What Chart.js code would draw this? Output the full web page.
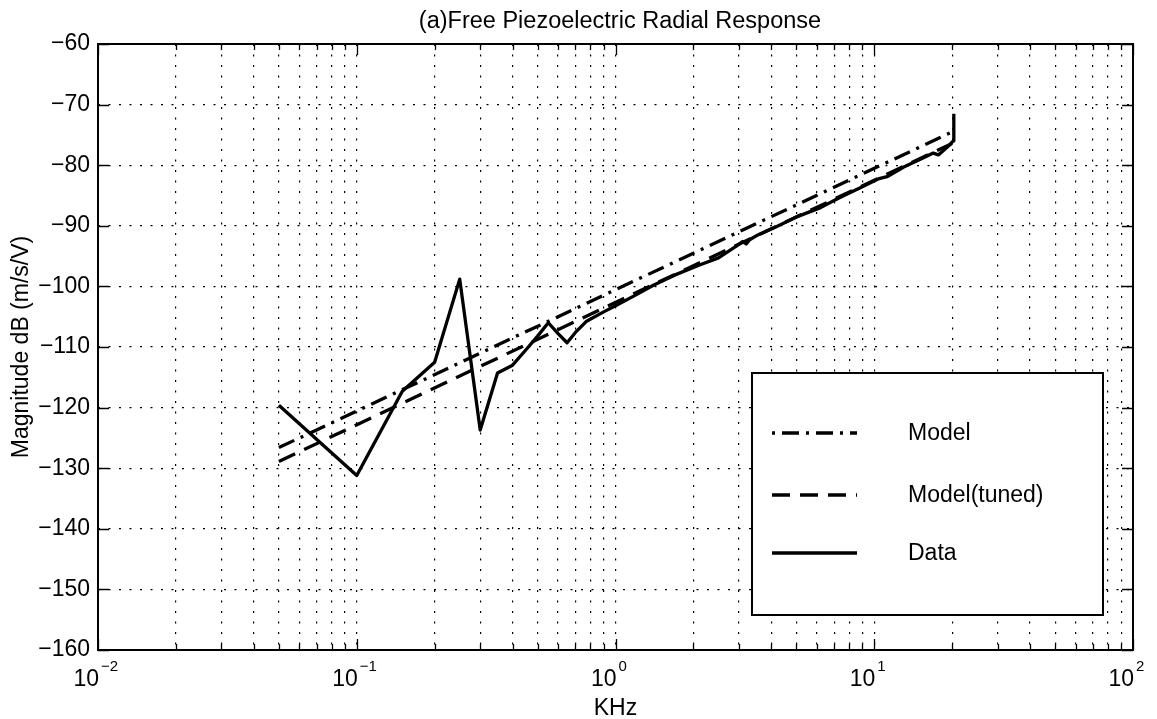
<!DOCTYPE html>
<html>
<head>
<meta charset="utf-8">
<script src="https://cdn.jsdelivr.net/npm/chart.js@4/dist/chart.umd.min.js"></script>
<style>
  html, body { margin: 0; padding: 0; background: #fff; }
  #wrap { width: 1157px; height: 719px; position: relative; }
</style>
</head>
<body>
<div id="wrap"><canvas id="respChart"></canvas></div>
<script>
// measured response (frequency in kHz, magnitude in dB)
const dataFreq = [0.05, 0.1, 0.15, 0.2, 0.25, 0.3, 0.35, 0.4, 0.45, 0.5, 0.55, 0.6, 0.65, 0.7, 0.77, 0.9,
                  1.0, 1.2, 1.4, 1.7, 2.1, 2.5, 2.92, 3.1, 3.2, 3.3, 3.55, 4.2, 5.1, 6.2, 7.3, 8.75,
                  10.45, 11.2, 13.0, 15.8, 16.9, 17.7, 19.5, 20.2, 20.3];
const dataDb   = [-119.6, -131.2, -117.3, -112.5, -98.8, -123.7, -114.3, -113.0, -110.5, -108.2, -106.0, -107.8, -109.3, -107.6, -105.8, -104.2,
                  -103.2, -101.4, -99.8, -98.1, -96.5, -95.3, -93.4, -92.6, -93.0, -92.3, -91.5, -90.1, -88.4, -87.0, -85.4, -83.8,
                  -82.2, -81.9, -80.3, -78.6, -78.0, -78.3, -76.7, -76.0, -71.5];
// model curves
const modelFreq = [0.05, 20];
const modelDb   = [-126.6, -74.5];
const tunedFreq = [0.05, 20];
const tunedDb   = [-128.9, -76.4];

// axes
const xMin = 0.01, xMax = 100;
const xDecades = [-2, -1, 0, 1, 2];
const yMin = -160, yMax = -60, yStep = 10;

const seriesNames = ['Model', 'Model(tuned)', 'Data'];
const FONT = '"Liberation Sans", Arial, Helvetica, sans-serif';

const toPts = (xs, ys) => xs.map((x, i) => ({ x: x, y: ys[i] }));

// log grid positions 1..9 x 10^n
const xGridVals = [];
xDecades.forEach(e => {
    for (let m = 1; m <= 9; m++) {
        const v = m * Math.pow(10, e);
        if (v >= xMin && v <= xMax) xGridVals.push(+v.toPrecision(6));
    }
});

const matlabDecor = {
    id: 'matlabDecor',
    afterDraw(chart) {
        const ctx = chart.ctx;
        const area = chart.chartArea;
        const xs = chart.scales.x, ys = chart.scales.y;
        ctx.save();
        ctx.strokeStyle = '#000';
        ctx.fillStyle = '#000';
        ctx.setLineDash([]);

        // inward tick marks
        ctx.lineWidth = 1.3;
        ctx.beginPath();
        xGridVals.forEach(v => {
            const px = Math.round(xs.getPixelForValue(v)) + 0.5;
            const isMajor = Math.abs(Math.log10(v) - Math.round(Math.log10(v))) < 1e-6;
            const len = isMajor ? 11 : 6;
            ctx.moveTo(px, area.bottom); ctx.lineTo(px, area.bottom - len);
            ctx.moveTo(px, area.top);    ctx.lineTo(px, area.top + len);
        });
        for (let v = yMin; v <= yMax; v += yStep) {
            const py = Math.round(ys.getPixelForValue(v)) + 0.5;
            ctx.moveTo(area.left, py);  ctx.lineTo(area.left + 11, py);
            ctx.moveTo(area.right, py); ctx.lineTo(area.right - 11, py);
        }
        ctx.stroke();

        // frame
        ctx.lineWidth = 2;
        ctx.strokeRect(area.left, area.top, area.right - area.left, area.bottom - area.top);

        // x tick labels 10^n
        xDecades.forEach(e => {
            const px = xs.getPixelForValue(Math.pow(10, e));
            ctx.font = '23px ' + FONT;
            ctx.textAlign = 'right';
            ctx.textBaseline = 'alphabetic';
            ctx.fillText('10', px + 1, 686);
            ctx.font = '15px ' + FONT;
            ctx.textAlign = 'left';
            ctx.fillText(e < 0 ? '\u2212' + Math.abs(e) : String(e), px + 3, 671);
        });

        // titles
        ctx.font = '23.5px ' + FONT;
        ctx.textAlign = 'center';
        ctx.textBaseline = 'alphabetic';
        ctx.fillText('(a)Free Piezoelectric Radial Response', 620, 28);
        ctx.font = '23px ' + FONT;
        ctx.fillText('KHz', (area.left + area.right) / 2, 715);
        ctx.save();
        ctx.translate(28, (area.top + area.bottom) / 2);
        ctx.rotate(-Math.PI / 2);
        ctx.fillText('Magnitude dB (m/s/V)', 0, 0);
        ctx.restore();

        // legend box
        const lb = { x: 752, y: 373, w: 351, h: 242 };
        ctx.fillStyle = '#fff';
        ctx.fillRect(lb.x, lb.y, lb.w, lb.h);
        ctx.lineWidth = 2;
        ctx.strokeRect(lb.x, lb.y, lb.w, lb.h);
        const rows = [433, 495, 553];
        const offsets = [24, 0, 0];
        chart.data.datasets.forEach((ds, i) => {
            ctx.beginPath();
            ctx.lineWidth = ds.borderWidth;
            ctx.setLineDash(ds.borderDash || []);
            ctx.lineDashOffset = offsets[i];
            ctx.moveTo(772, rows[i]); ctx.lineTo(857, rows[i]);
            ctx.stroke();
            ctx.setLineDash([]);
            ctx.lineDashOffset = 0;
            ctx.fillStyle = '#000';
            ctx.font = '23px ' + FONT;
            ctx.textAlign = 'left';
            ctx.textBaseline = 'middle';
            ctx.fillText(ds.label, 908, rows[i] + 1);
        });
        ctx.restore();
    }
};

new Chart(document.getElementById('respChart'), {
    type: 'scatter',
    data: {
        datasets: [
            {
                label: seriesNames[0],
                data: toPts(modelFreq, modelDb),
                showLine: true, borderColor: '#000', borderWidth: 3.3,
                borderDash: [17, 7, 3, 7], pointRadius: 0, tension: 0
            },
            {
                label: seriesNames[1],
                data: toPts(tunedFreq, tunedDb),
                showLine: true, borderColor: '#000', borderWidth: 3.3,
                borderDash: [18, 10], pointRadius: 0, tension: 0
            },
            {
                label: seriesNames[2],
                data: toPts(dataFreq, dataDb),
                showLine: true, borderColor: '#000', borderWidth: 3.3,
                borderJoinStyle: 'round', pointRadius: 0, tension: 0
            }
        ]
    },
    options: {
        responsive: true,
        maintainAspectRatio: false,
        animation: false,
        layout: { padding: { top: 44, right: 24, left: 0, bottom: 0 } },
        plugins: { legend: { display: false }, tooltip: { enabled: false }, title: { display: false } },
        scales: {
            x: {
                type: 'logarithmic',
                min: xMin, max: xMax,
                afterBuildTicks: s => { s.ticks = xGridVals.map(v => ({ value: v })); },
                afterFit: s => { s.height = 69; },
                ticks: { display: false },
                grid: { color: '#000', lineWidth: 1.2, drawTicks: false },
                border: { display: false, dash: [2, 8.5] }
            },
            y: {
                min: yMin, max: yMax,
                afterFit: s => { s.width = 98; },
                ticks: {
                    stepSize: yStep,
                    padding: 8,
                    color: '#000',
                    font: { family: FONT, size: 23 },
                    callback: v => (v < 0 ? '\u2212' : '') + Math.abs(v)
                },
                grid: { color: '#000', lineWidth: 1.2, drawTicks: false },
                border: { display: false, dash: [2, 8.5] }
            }
        }
    },
    plugins: [matlabDecor]
});
</script>
</body>
</html>
